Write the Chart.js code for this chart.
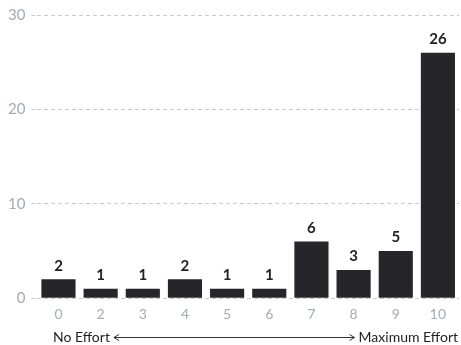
<!DOCTYPE html>
<html>
<head>
<meta charset="utf-8">
<script src="https://cdn.jsdelivr.net/npm/chart.js@4/dist/chart.umd.min.js"></script>
<style>
  html, body { margin: 0; padding: 0; background: #fff; }
  #wrap { width: 461px; height: 345px; }
</style>
</head>
<body>
<div id="wrap"><canvas id="effortChart" width="461" height="345"></canvas></div>
<script>
const effortLevels = ['0', '2', '3', '4', '5', '6', '7', '8', '9', '10'];
const responseCounts = [2, 1, 1, 2, 1, 1, 6, 3, 5, 26];
const yTicks = [0, 10, 20, 30];
const scaleLabels = ['No Effort', 'Maximum Effort'];

const FONT = 'Lato, "Open Sans", sans-serif';

// numbers above each bar
const valueLabels = {
    id: 'valueLabels',
    afterDatasetsDraw(chart) {
        const ctx = chart.ctx;
        const meta = chart.getDatasetMeta(0);
        ctx.save();
        ctx.font = 'bold 15px ' + FONT;
        ctx.fillStyle = '#222226';
        ctx.textAlign = 'center';
        ctx.textBaseline = 'bottom';
        meta.data.forEach((bar, i) => {
            ctx.fillText(responseCounts[i], bar.x, bar.y - 6);
        });
        ctx.restore();
    }
};

// "No Effort <----> Maximum Effort" line under the axis
const effortScale = {
    id: 'effortScale',
    afterDraw(chart) {
        const ctx = chart.ctx;
        const y = chart.height - 8;
        ctx.save();
        ctx.font = '14px ' + FONT;
        ctx.fillStyle = '#1e1e22';
        ctx.textBaseline = 'middle';
        ctx.textAlign = 'left';
        ctx.fillText(scaleLabels[0], 53, y);
        ctx.textAlign = 'right';
        ctx.fillText(scaleLabels[1], 458, y);

        const x1 = 53 + ctx.measureText(scaleLabels[0]).width + 4;
        const x2 = 458 - ctx.measureText(scaleLabels[1]).width - 4;
        ctx.strokeStyle = '#333';
        ctx.lineWidth = 1;
        ctx.beginPath();
        ctx.moveTo(x1, y + 0.5);
        ctx.lineTo(x2, y + 0.5);
        ctx.moveTo(x1 + 5, y - 2.5);
        ctx.lineTo(x1, y + 0.5);
        ctx.lineTo(x1 + 5, y + 3.5);
        ctx.moveTo(x2 - 5, y - 2.5);
        ctx.lineTo(x2, y + 0.5);
        ctx.lineTo(x2 - 5, y + 3.5);
        ctx.stroke();
        ctx.restore();
    }
};

new Chart(document.getElementById('effortChart').getContext('2d'), {
    type: 'bar',
    data: {
        labels: effortLevels,
        datasets: [{
            data: responseCounts,
            backgroundColor: '#262529',
            borderWidth: 0,
            barPercentage: 0.9,
            categoryPercentage: 0.9
        }]
    },
    options: {
        responsive: false,
        animation: false,
        layout: { padding: { top: 7, right: 2, bottom: 22, left: 2 } },
        plugins: {
            legend: { display: false },
            tooltip: { enabled: false }
        },
        scales: {
            x: {
                grid: { display: false },
                border: { display: false },
                ticks: { color: '#a3abb3', font: { family: FONT, size: 14 }, padding: 0 }
            },
            y: {
                min: 0,
                max: 30,
                afterBuildTicks(axis) {
                    axis.ticks = yTicks.map(v => ({ value: v }));
                },
                border: { display: false, dash: [4, 3] },
                grid: {
                    color: '#c8cacd',
                    tickLength: 6,
                    tickColor: '#c8cacd',
                    tickBorderDash: [4, 3]
                },
                ticks: { color: '#a3abb3', font: { family: FONT, size: 15 }, padding: 6 }
            }
        }
    },
    plugins: [valueLabels, effortScale]
});
</script>
</body>
</html>
